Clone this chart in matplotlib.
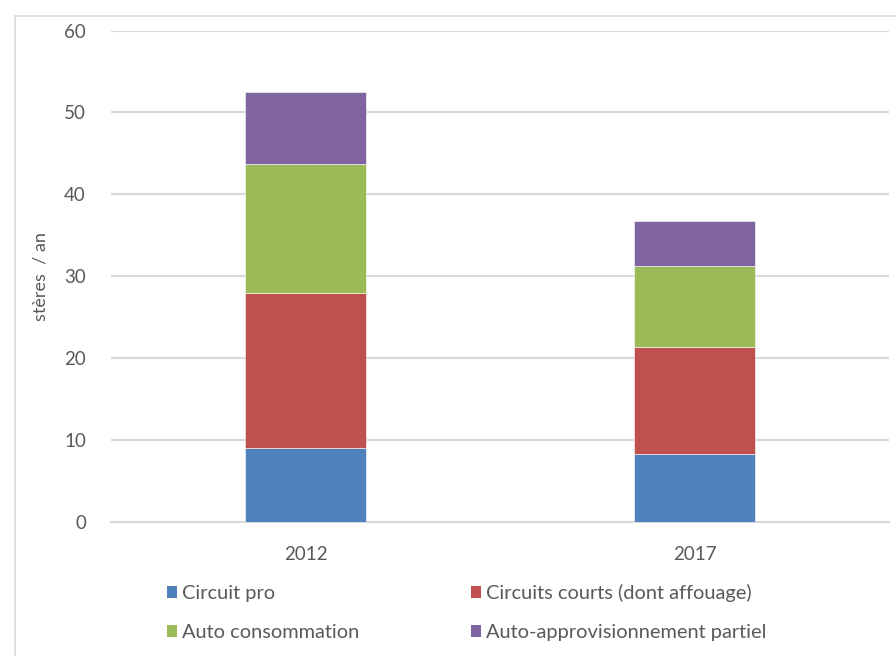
import matplotlib
matplotlib.use("Agg")
import matplotlib.pyplot as plt
from matplotlib.patches import Rectangle, Patch

years = ["2012", "2017"]
series_names = ["Circuit pro", "Circuits courts (dont affouage)",
                "Auto consommation", "Auto-approvisionnement partiel"]
circuit_pro = [9.0, 8.3]
circuits_courts = [18.9, 13.1]
auto_conso = [15.8, 9.8]
auto_appro = [8.8, 5.5]
colors = ["#4F81BD", "#C0504D", "#9BBB59", "#8064A2"]
yticks = [0, 10, 20, 30, 40, 50, 60]

plt.rcParams['font.family'] = ['Lato', 'DejaVu Sans']
fig = plt.figure(figsize=(8.96, 6.56), dpi=100)
ax = fig.add_axes([111/896, 1-522/656, (889-111)/896, (522-30.5)/656])

x = list(range(len(years)))
bottoms = [0.0]*len(years)
handles = []
for name, vals, c in zip(series_names, [circuit_pro, circuits_courts, auto_conso, auto_appro], colors):
    ax.bar(x, vals, width=0.31, bottom=bottoms, color=c, edgecolor="white", linewidth=0.4, zorder=3)
    bottoms = [b+v for b, v in zip(bottoms, vals)]
    handles.append(Patch(facecolor=c, edgecolor='none', label=name))

ax.set_xlim(-0.5, 1.5)
ax.set_ylim(0, 60)
ax.set_yticks(yticks)
ax.set_xticks(x)
ax.set_xticklabels(years)
ax.grid(axis='y', color='#d9d9d9', linewidth=1.5, zorder=0)
for s in ['top', 'right', 'left']:
    ax.spines[s].set_visible(False)
ax.spines['bottom'].set_color('#d9d9d9')
ax.spines['bottom'].set_linewidth(1.5)
ax.tick_params(axis='both', length=0, labelsize=13.5, colors='#595959')
ax.tick_params(axis='y', pad=18)
ax.tick_params(axis='x', pad=17)
ax.set_ylabel("stères  / an", fontsize=13, color='#595959', labelpad=11)

order = [0, 2, 1, 3]
leg = fig.legend([handles[i] for i in order], [series_names[i] for i in order],
                 ncol=2, loc='upper left', bbox_to_anchor=(167/896, 1-584/656),
                 frameon=False, fontsize=14.4, handlelength=0.5, handleheight=0.5,
                 handletextpad=0.25, columnspacing=5.6, labelspacing=1.1,
                 borderaxespad=0, borderpad=0)
for t in leg.get_texts():
    t.set_color('#595959')

fig.patches.append(Rectangle((15/896, -0.1), 1.1, 1-16/656+0.1, transform=fig.transFigure,
                             fill=False, edgecolor='#d9d9d9', linewidth=1.2))

fig.savefig("out.png", dpi=100)
